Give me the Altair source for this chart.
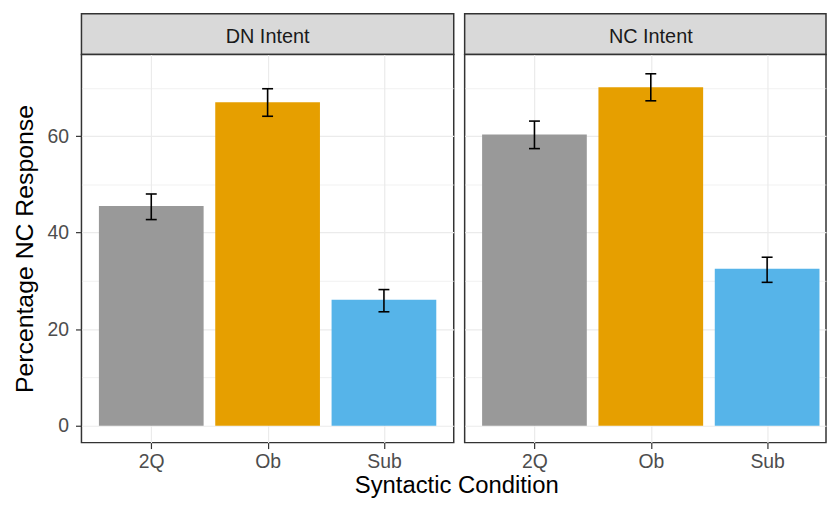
import json
import altair as alt
import pandas as pd

# ---- data ----
facet_labels = ["DN Intent", "NC Intent"]
intents = ["DN Intent", "DN Intent", "DN Intent", "NC Intent", "NC Intent", "NC Intent"]
conditions = ["2Q", "Ob", "Sub", "2Q", "Ob", "Sub"]
means = [45.5, 67.0, 26.1, 60.3, 70.1, 32.5]
lower = [42.7, 64.1, 23.6, 57.4, 67.3, 29.7]
upper = [48.0, 69.8, 28.2, 63.1, 72.9, 34.9]

cond_order = ["2Q", "Ob", "Sub"]
palette = ["#999999", "#E69F00", "#56B4E9"]
y_ticks = [0, 10, 20, 30, 40, 50, 60, 70]

df = pd.DataFrame({"Intent": intents, "Condition": conditions,
                   "Idx": [cond_order.index(c) + 1 for c in conditions],
                   "Mean": means, "Lower": lower, "Upper": upper})
strip_df = pd.DataFrame({"Intent": facet_labels})

PW, PH, SH = 375, 391, 41
PW_RIGHT = 364          # right panel runs into the page edge, as in the reference
FONT = "Liberation Sans"
major = "datum.value % 20 === 0"
x_labels = "%s[datum.value - 1]" % json.dumps(cond_order)

y_scale = alt.Scale(domain=[-3.5, 76.9], nice=False, zero=False)
color_scale = alt.Scale(domain=cond_order, range=palette)


def y_axis(show):
    common = dict(values=y_ticks, grid=True, gridColor="#EBEBEB",
                  gridWidth={"condition": {"test": major, "value": 1.2}, "value": 0.7},
                  domain=False)
    if show:
        return alt.Axis(title="Percentage NC Response", titleFontSize=25,
                        titleFontWeight="normal", titleColor="#000000",
                        titlePadding=10, labelFontSize=19.5, labelColor="#4D4D4D",
                        labelPadding=7, tickSize=6, tickWidth=1.2,
                        tickColor={"condition": {"test": major, "value": "#333333"},
                                   "value": "transparent"},
                        labelExpr="datum.value % 20 === 0 ? datum.label : ''",
                        **common)
    return alt.Axis(title=None, labels=False, ticks=False, **common)


def x_axis(show_title):
    kw = dict(values=[1, 2, 3], labelExpr=x_labels, labelAngle=0,
              labelFontSize=19.5, labelColor="#4D4D4D",
              labelPadding=4, tickSize=6, tickWidth=1.2, tickColor="#333333",
              grid=True, gridColor="#EBEBEB", gridWidth=1.2, domain=False)
    if show_title:
        kw.update(title="Syntactic Condition", titleFontSize=24,
                  titleFontWeight="normal", titleColor="#000000",
                  titlePadding=3, titleX=PW + 2.5, titleAlign="center")
    else:
        kw.update(title=None)
    return alt.Axis(**kw)


def panel(intent, first, width):
    # ggplot-like discrete axis: categories at 1..3, 0.6 expansion each side
    x_scale = alt.Scale(domain=[0.4, 0.4 + 3.2 * width / PW], nice=False, zero=False)
    base = alt.Chart(df).transform_filter(
        alt.datum.Intent == intent
    ).transform_calculate(
        BarL="datum.Idx - 0.45", BarR="datum.Idx + 0.45",
        CapL="datum.Idx - 0.047", CapR="datum.Idx + 0.047",
    )
    bars = base.mark_bar().encode(
        x=alt.X("BarL:Q", scale=x_scale, axis=x_axis(first)),
        x2="BarR:Q",
        y=alt.Y("Mean:Q", scale=y_scale, axis=y_axis(first)),
        y2=alt.datum(0),
        color=alt.Color("Condition:N", scale=color_scale, legend=None),
    )
    rule = base.mark_rule(color="#000000", strokeWidth=1.6).encode(
        x="Idx:Q", y="Lower:Q", y2="Upper:Q")
    cap_lo = base.mark_rule(color="#000000", strokeWidth=1.6).encode(
        x="CapL:Q", x2="CapR:Q", y="Lower:Q")
    cap_hi = base.mark_rule(color="#000000", strokeWidth=1.6).encode(
        x="CapL:Q", x2="CapR:Q", y="Upper:Q")
    return alt.layer(bars, rule, cap_lo, cap_hi).properties(
        width=width, height=PH,
        view=alt.ViewBackground(fill="white", stroke="#333333", strokeWidth=1.5))


def strip(intent, width):
    return alt.Chart(strip_df).transform_filter(
        alt.datum.Intent == intent
    ).mark_text(font=FONT, fontSize=20, color="#1A1A1A", dy=3,
                x=PW / 2).encode(
        text="Intent:N"
    ).properties(
        width=width, height=SH,
        view=alt.ViewBackground(fill="#D9D9D9", stroke="#333333", strokeWidth=1.5))


chart = alt.concat(
    strip(facet_labels[0], PW), strip(facet_labels[1], PW_RIGHT),
    panel(facet_labels[0], True, PW), panel(facet_labels[1], False, PW_RIGHT),
    columns=2, spacing={"row": 0, "column": 11}, bounds="flush",
).properties(
    padding={"left": 3, "top": 3, "right": 0, "bottom": 0},
    background="white",
).configure(font=FONT).configure_axis(labelFont=FONT, titleFont=FONT)

chart.save("out.html", embed_options={"renderer": "svg", "actions": False})
